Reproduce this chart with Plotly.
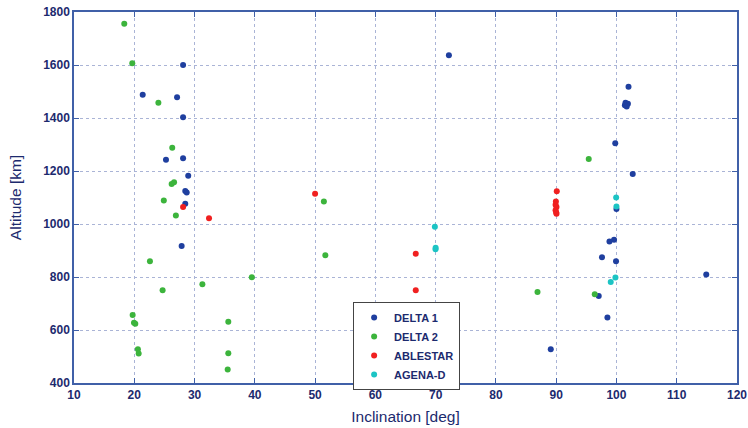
import plotly.graph_objects as go

# DELTA 1
d1_inc = [28.1, 21.4, 27.1, 28.1, 25.26, 28.1, 28.95, 28.46, 28.7, 28.46, 27.86,
          72.2, 102.0, 101.5, 101.9, 101.4, 101.7, 99.8, 102.7, 100.0,
          99.6, 98.84, 97.6, 99.93, 114.9, 97.06, 98.5, 89.1]
d1_alt = [1600, 1488, 1478, 1403, 1242, 1248, 1182, 1125, 1119, 1076, 917,
          1637, 1518, 1458, 1454, 1448, 1443, 1305, 1189, 1057,
          941, 934, 875, 859, 809, 728, 647, 527]

# DELTA 2
d2_inc = [18.34, 19.67, 24.0, 26.3, 26.2, 26.6, 24.9, 26.9, 22.6, 24.7, 31.3,
          19.73, 19.95, 20.17, 35.6, 20.6, 20.73, 35.6, 35.5, 51.46, 51.7, 39.5,
          95.4, 86.9, 96.4]
d2_alt = [1756, 1607, 1458, 1288, 1151, 1158, 1089, 1032, 859, 750, 773,
          657, 627, 624, 631, 527, 511, 512, 451, 1085, 882, 799,
          1245, 743, 735]

# ABLESTAR
ab_inc = [28.1, 32.4, 50.0, 66.7, 66.7, 90.1, 89.95, 89.9, 90.05, 89.9, 90.0, 90.05]
ab_alt = [1064, 1022, 1114, 888, 750, 1124, 1085, 1073, 1064, 1052, 1043, 1039]

# AGENA-D
ag_inc = [69.87, 69.98, 70.0, 99.95, 100.0, 99.83, 99.05]
ag_alt = [990, 905, 910, 1100, 1066, 798, 781]

navy = "#1c2a6e"
series = [
    ("DELTA 1", d1_inc, d1_alt, "#1f3f9f"),
    ("DELTA 2", d2_inc, d2_alt, "#3cb43c"),
    ("ABLESTAR", ab_inc, ab_alt, "#f02020"),
    ("AGENA-D", ag_inc, ag_alt, "#1cc4c4"),
]

fig = go.Figure()
for name, xs, ys, col in series:
    fig.add_trace(go.Scatter(x=xs, y=ys, mode="markers", name=name,
                             marker=dict(color=col, size=6, line=dict(width=0))))

axis_common = dict(
    showline=True, linecolor="#4060a8", linewidth=1.5, mirror="allticks",
    ticks="inside", ticklen=5, tickcolor="#4060a8",
    showgrid=True, gridcolor="#aab4d6", griddash="dot", gridwidth=1,
    zeroline=False, automargin=False,
    tickfont=dict(family="Liberation Sans, Arial", size=12, color=navy, weight="bold"),
)

title_font = dict(family="Liberation Sans, Arial", size=15.5, color=navy)
fig.update_xaxes(range=[10, 120], dtick=10, tick0=10,
                 title=dict(text="Inclination [deg]", font=title_font, standoff=10),
                 **axis_common)
fig.update_yaxes(range=[400, 1800], dtick=200, tick0=400,
                 title=dict(text="Altitude [km]", font=title_font, standoff=18),
                 **axis_common)

fig.update_layout(
    width=748, height=428,
    margin=dict(l=74, r=11, t=12, b=45),
    paper_bgcolor="white", plot_bgcolor="white",
    legend=dict(x=0.421, y=0.10, xanchor="left", yanchor="middle",
                bgcolor="white", bordercolor="#444444", borderwidth=1,
                font=dict(family="Liberation Sans, Arial", size=11, color=navy, weight="bold"),
                tracegroupgap=0),
)

fig.write_html("out.html", config={"displayModeBar": False},
               post_script="document.body.style.margin='0';document.body.style.padding='0';")
